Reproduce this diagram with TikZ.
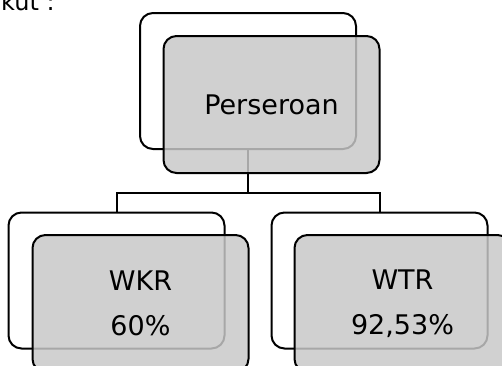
\documentclass[tikz,border=0pt]{standalone}
\usepackage{fontspec}
\setmainfont{DejaVu Sans}
\definecolor{boxgray}{RGB}{200,200,200}
\tikzset{
  backbox/.style={draw=black, line width=2pt, rounded corners=13pt, fill=white,
    minimum width=216pt, minimum height=136pt, inner sep=0pt, outer sep=0pt},
  frontbox/.style={draw=black, line width=2pt, rounded corners=13pt, fill=boxgray,
    fill opacity=0.84, text opacity=1, minimum width=216pt, minimum height=137pt,
    inner sep=0pt, outer sep=0pt, align=center, font=\fontsize{27}{45}\selectfont},
  conn/.style={draw=black, line width=2pt}
}
\begin{document}
\begin{tikzpicture}[x=1pt, y=-1pt]
\useasboundingbox (0,0) rectangle (502,365);
\node[anchor=base west, inner sep=0pt, font=\fontsize{24}{28}\selectfont] (intro) at (1,10) {kut :};
% back boxes
\node[backbox] (topback) at (248,81) {};
\node[backbox] (leftback) at (116.5,280.5) {};
\node[backbox] (rightback) at (379.5,280.5) {};
% connectors
\coordinate (bus) at (248,193);
\draw[conn] (topback.south) -- (bus) -| (leftback.north);
\draw[conn] (bus) -| (rightback.north);
% front boxes
\node[frontbox] (topfront) at (271.5,104.5) {Perseroan};
\node[frontbox] (leftfront) at (140.5,303.5) {WKR\\60\%};
\node[frontbox] (rightfront) at (402.5,303.5) {WTR\\92,53\%};
\end{tikzpicture}
\end{document}
